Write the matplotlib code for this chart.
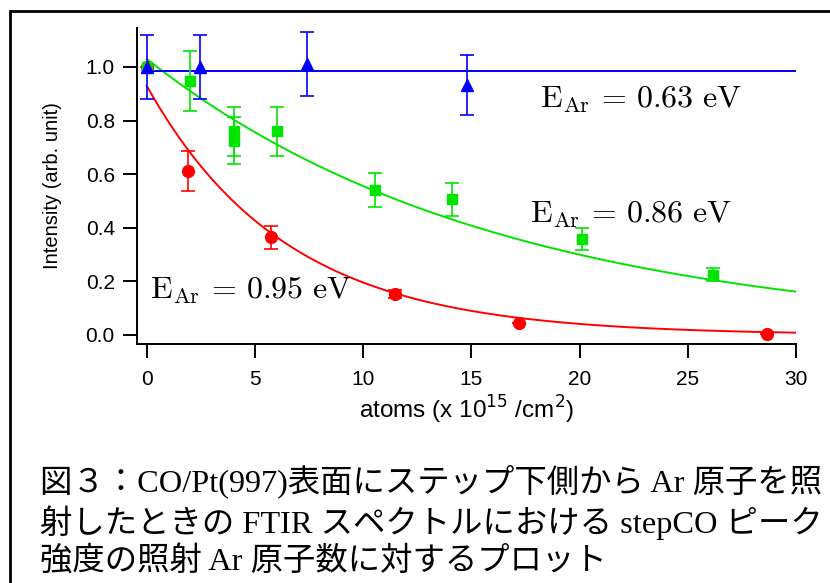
import numpy as np
import matplotlib.pyplot as plt
from matplotlib.patches import Rectangle

plt.rcParams['mathtext.fontset'] = 'cm'

# E_Ar = 0.95 eV (red circles)
red_x = [0.0, 1.9, 5.72, 11.48, 17.2, 28.66]
red_y = [1.0, 0.612, 0.364, 0.153, 0.046, 0.002]
red_err = [0.0, 0.075, 0.043, 0.015, 0.0, 0.0]

# E_Ar = 0.86 eV (green squares)
green_x = [0.0, 1.99, 4.01, 4.01, 6.02, 10.54, 14.1, 20.1, 26.17]
green_y = [1.0, 0.948, 0.76, 0.725, 0.760, 0.540, 0.506, 0.357, 0.225]
green_err = [0.0, 0.113, 0.092, 0.087, 0.091, 0.064, 0.061, 0.041, 0.025]

# E_Ar = 0.63 eV (blue triangles)
blue_x = [0.0, 2.44, 7.41, 14.8]
blue_y = [1.0, 1.0, 1.011, 0.932]
blue_err = [0.12, 0.12, 0.121, 0.112]

# exponential fit parameters: y = A * exp(-x / tau)
red_fit = (0.93, 6.42)
green_fit = (1.03, 16.2)
blue_level = 0.986

labels = [r'$\mathrm{E_{Ar}}\,=\,0.95\ \mathrm{eV}$', r'$\mathrm{E_{Ar}}\,=\,0.86\ \mathrm{eV}$',
          r'$\mathrm{E_{Ar}}\,=\,0.63\ \mathrm{eV}$']
xticks = [0, 5, 10, 15, 20, 25, 30]
yticks = [0.0, 0.2, 0.4, 0.6, 0.8, 1.0]

caption = ("図３：CO/Pt(997)表面にステップ下側から Ar 原子を照\n"
           "射したときの FTIR スペクトルにおける stepCO ピーク\n"
           "強度の照射 Ar 原子数に対するプロット")

RED, GREEN, BLUE = '#ff0000', '#00e400', '#0000ff'

fig = plt.figure(figsize=(8.3, 5.83), dpi=100)
ax = fig.add_axes([137 / 830, 239 / 583, 659 / 830, 316 / 583])

xf = np.linspace(0, 30, 300)
ax.plot(xf, red_fit[0] * np.exp(-xf / red_fit[1]), color=RED, lw=1.4)
ax.plot(xf, green_fit[0] * np.exp(-xf / green_fit[1]), color=GREEN, lw=1.4)
ax.plot([0, 30], [blue_level, blue_level], color=BLUE, lw=1.4)

ekw = dict(linestyle='none', elinewidth=1.2, capsize=4.7, capthick=1.2)
ax.errorbar(red_x, red_y, yerr=red_err, fmt='o', color=RED, ms=8.5, **ekw)
ax.errorbar(green_x, green_y, yerr=green_err, fmt='s', color=GREEN, ms=7, **ekw)
ax.errorbar(blue_x, blue_y, yerr=blue_err, fmt='^', color=BLUE, ms=8, **ekw)

tkw = dict(fontsize=23)
ax.text(0.14, 0.168, labels[0], va='center', ha='left', **tkw)
ax.text(17.7, 0.45, labels[1], va='center', ha='left', **tkw)
ax.text(18.15, 0.877, labels[2], va='center', ha='left', **tkw)

ax.set_xlim(-0.45, 30)
ax.set_ylim(-0.0336, 1.1455)
ax.set_xticks(xticks)
ax.set_yticks(yticks)
ax.set_yticklabels([f'{v:.1f}' for v in yticks])
ax.spines['top'].set_visible(False)
ax.spines['right'].set_visible(False)
for s in ('left', 'bottom'):
    ax.spines[s].set_linewidth(1.4)
ax.tick_params(direction='out', length=10, width=1.4, labelsize=15)
ax.tick_params(axis='x', pad=9)
ax.tick_params(axis='y', pad=6)
for lab in ax.get_xticklabels() + ax.get_yticklabels():
    lab.set_family('Liberation Sans')

ax.set_xlabel(r'atoms (x 10$^{15}$ /cm$^{2}$)', fontsize=17.5, family='Liberation Sans',
              math_fontfamily='dejavusans', labelpad=3)
ax.set_ylabel('Intensity (arb. unit)', fontsize=14.5, family='Liberation Sans', labelpad=17)

fig.text(40 / 830, 1 - 464 / 583, caption, ha='left', va='top', fontsize=23.3,
         family=['Liberation Serif', 'Noto Sans CJK JP'], linespacing=1.26)

# frame around the figure (only top and left edges visible)
fig.patches.append(Rectangle((10 / 830, -0.1), 1.0, 1 - 11 / 583 + 0.1,
                             transform=fig.transFigure, fill=False, lw=2, ec='black'))

fig.savefig('out.png', dpi=100)
